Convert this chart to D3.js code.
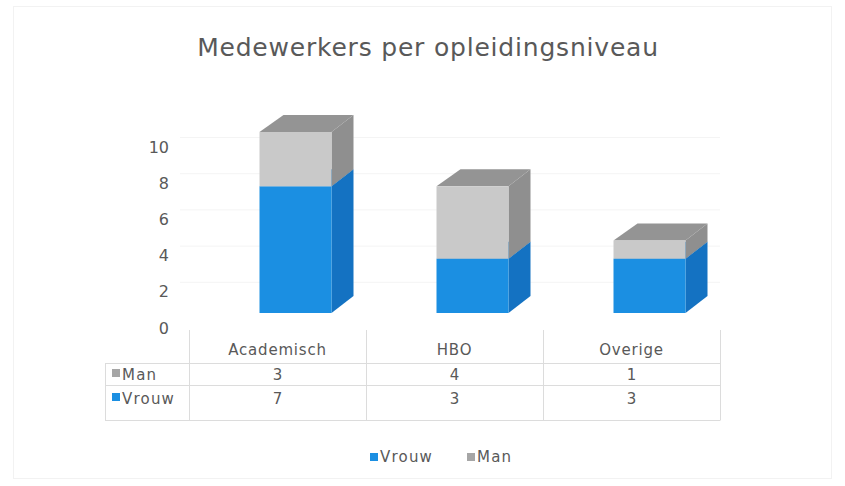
<!DOCTYPE html>
<html>
<head>
<meta charset="utf-8">
<script src="https://cdn.jsdelivr.net/npm/d3@7"></script>
<style>
  body { margin: 0; background: #fff; }
  text { font-family: "DejaVu Sans", sans-serif; fill: #595959; }
</style>
</head>
<body>
<svg id="chart" width="845" height="486"></svg>
<script>
// data
const categories = ['Academisch', 'HBO', 'Overige'];
const vrouw = [7, 3, 3];
const man = [3, 4, 1];
const yTicks = [0, 2, 4, 6, 8, 10];
const seriesNames = ['Vrouw', 'Man'];

const colors = {
  Vrouw: { front: '#1b8fe2', side: '#1472c2', top: '#1880d0' },
  Man: { front: '#c9c9c9', side: '#8f8f8f', top: '#949494' }
};
const legendColor = { Vrouw: '#1b8fe2', Man: '#a6a6a6' };

const svg = d3.select('#chart');
const depthX = 22, depthY = -17;

// outer border (faint)
svg.append('rect')
  .attr('x', 13.5).attr('y', 6.5).attr('width', 818).attr('height', 472)
  .attr('fill', 'none').attr('stroke', '#f2f2f2');

svg.append('text')
  .attr('x', 428).attr('y', 56)
  .attr('text-anchor', 'middle')
  .style('font-size', '25px')
  .style('letter-spacing', '0.8px')
  .text('Medewerkers per opleidingsniveau');

// scales
const x = d3.scaleBand().domain(categories).range([189, 720]);
const y = d3.scaleLinear().domain([0, 10]).range([313, 132]);
const labelShift = 15;
const barW = 72;
const barX = d => x(d) + x.bandwidth() / 2 + 18 - barW / 2;

// faint back-wall gridlines
svg.append('g').selectAll('line')
  .data(yTicks.filter(v => v > 0))
  .join('line')
  .attr('x1', 180).attr('x2', 720)
  .attr('y1', d => y(d) + labelShift - 10 + 0.5)
  .attr('y2', d => y(d) + labelShift - 10 + 0.5)
  .attr('stroke', '#f4f4f4');

// y axis labels
const yAxis = d3.axisLeft(y).tickValues(yTicks).tickSize(0).tickPadding(0);
svg.append('g')
  .attr('transform', `translate(169,${labelShift})`)
  .call(yAxis)
  .call(g => g.select('.domain').remove())
  .call(g => g.selectAll('text')
    .style('font-size', '16px')
    .attr('fill', '#595959')
    .style('font-family', '"DejaVu Sans", sans-serif'));

// stacked 3D bars
const rows = categories.map((c, i) => ({ cat: c, Vrouw: vrouw[i], Man: man[i] }));
const stack = d3.stack().keys(seriesNames)(rows);

const segs = [];
stack.forEach(s => s.forEach(d => segs.push({ key: s.key, cat: d.data.cat, y0: d[0], y1: d[1] })));

const bars = svg.append('g');
segs.forEach(s => {
  const x0 = barX(s.cat), x1 = x0 + barW;
  const yb = y(s.y0), yt = y(s.y1);
  const c = colors[s.key];
  const g = bars.append('g');
  // right side
  g.append('path')
    .attr('d', `M${x1},${yb}L${x1 + depthX},${yb + depthY}L${x1 + depthX},${yt + depthY}L${x1},${yt}Z`)
    .attr('fill', c.side);
  // top
  g.append('path')
    .attr('d', `M${x0},${yt}L${x0 + depthX + 2},${yt + depthY}L${x1 + depthX},${yt + depthY}L${x1},${yt}Z`)
    .attr('fill', c.top);
  // front
  g.append('rect')
    .attr('x', x0).attr('y', yt)
    .attr('width', barW).attr('height', yb - yt)
    .attr('fill', c.front);
});

// data table
const tableTop = 330, headerBottom = 363.5, midLine = 385.5, tableBottom = 420.5, tableLeft = 105;
const lineColor = '#dcdcdc';
const table = svg.append('g');

const bounds = categories.map(c => x(c)).concat([x.range()[1]]);
table.selectAll('line.v')
  .data(bounds)
  .join('line')
  .attr('x1', d => Math.round(d) + 0.5).attr('x2', d => Math.round(d) + 0.5)
  .attr('y1', tableTop).attr('y2', tableBottom)
  .attr('stroke', lineColor);

table.selectAll('line.h')
  .data([headerBottom, midLine, tableBottom])
  .join('line')
  .attr('x1', tableLeft).attr('x2', x.range()[1])
  .attr('y1', d => d).attr('y2', d => d)
  .attr('stroke', lineColor);

table.append('line')
  .attr('x1', tableLeft + 0.5).attr('x2', tableLeft + 0.5)
  .attr('y1', headerBottom).attr('y2', tableBottom)
  .attr('stroke', lineColor);

table.selectAll('text.cat')
  .data(categories)
  .join('text')
  .attr('x', d => x(d) + x.bandwidth() / 2)
  .attr('y', 355)
  .attr('text-anchor', 'middle')
  .style('font-size', '15px')
  .style('letter-spacing', '0.8px')
  .text(d => d);

const tableRows = [
  { name: 'Man', values: man, y: 380 },
  { name: 'Vrouw', values: vrouw, y: 404 }
];
tableRows.forEach(r => {
  table.append('rect')
    .attr('x', 112).attr('y', r.y - 11)
    .attr('width', 8).attr('height', 8)
    .attr('fill', legendColor[r.name]);
  table.append('text')
    .attr('x', 122).attr('y', r.y)
    .style('font-size', '15px')
    .style('letter-spacing', '1.2px')
    .text(r.name);
  table.selectAll(null)
    .data(r.values)
    .join('text')
    .attr('x', (d, i) => x(categories[i]) + x.bandwidth() / 2)
    .attr('y', r.y)
    .attr('text-anchor', 'middle')
    .style('font-size', '15px')
    .text(d => d);
});

// legend
const legendItems = [{ name: 'Vrouw', x: 370 }, { name: 'Man', x: 467 }];
const legend = svg.append('g');
legendItems.forEach(l => {
  legend.append('rect')
    .attr('x', l.x).attr('y', 453)
    .attr('width', 8).attr('height', 8)
    .attr('fill', legendColor[l.name]);
  legend.append('text')
    .attr('x', l.x + 10).attr('y', 462)
    .style('font-size', '15px')
    .style('letter-spacing', '1.2px')
    .text(l.name);
});
</script>
</body>
</html>
